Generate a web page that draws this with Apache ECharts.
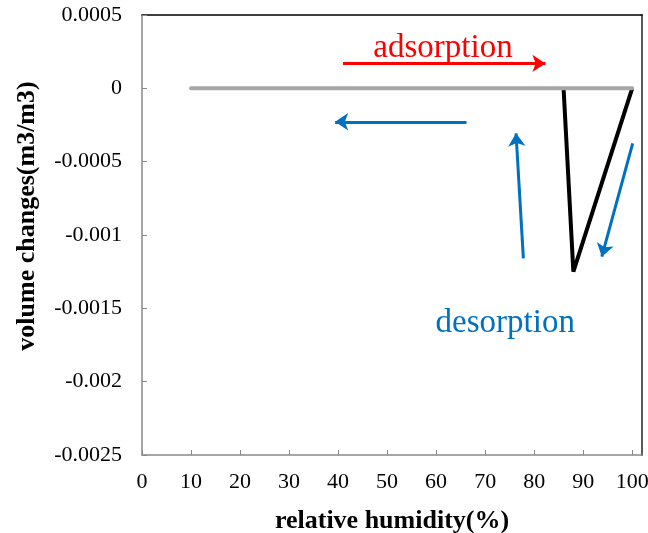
<!DOCTYPE html>
<html><head><meta charset="utf-8">
<script src="https://cdn.jsdelivr.net/npm/echarts@6/dist/echarts.min.js"></script>
<style>html,body{margin:0;padding:0;background:#fff}#c{width:648px;height:533px}</style>
</head><body><div id="c"></div>
<script>
const adsorptionRH = [10, 20, 30, 40, 50, 60, 70, 80, 90, 100];
const adsorptionVol = [0, 0, 0, 0, 0, 0, 0, 0, 0, 0];
const desorptionRH = [100, 88, 86];
const desorptionVol = [0, -0.00125, 0];
const yTicks = [0.0005, 0, -0.0005, -0.001, -0.0015, -0.002, -0.0025];
const xTicks = [0, 10, 20, 30, 40, 50, 60, 70, 80, 90, 100];
// annotation arrows in data units [x1, y1, x2, y2]
const redArrow = [41.0, 0.00017, 82.3, 0.00017];
const blueArrows = [
  [66.2, -0.000228, 39.4, -0.000228],
  [77.8, -0.001159, 76.3, -0.000307],
  [100.1, -0.000375, 93.8, -0.001148]
];
const labelAds = {text: 'adsorption', x: 61.4, y: 0.000275};
const labelDes = {text: 'desorption', x: 74.1, y: -0.001605};

const FONT = '"Liberation Serif","Times New Roman",serif';
const chart = echarts.init(document.getElementById('c'), null, {renderer: 'canvas'});
const arrowLines = [];
arrowLines.push([{coord: [redArrow[0], redArrow[1]], lineStyle: {color: '#FF0000', width: 3, type: 'solid'}}, {coord: [redArrow[2], redArrow[3]]}]);
blueArrows.forEach(a => arrowLines.push([{coord: [a[0], a[1]], lineStyle: {color: '#0070C0', width: 3, type: 'solid'}}, {coord: [a[2], a[3]]}]));

chart.setOption({
  animation: false,
  grid: {left: 142, right: 6, top: 15, bottom: 78, containLabel: false, outerBoundsMode: 'none'},
  xAxis: [{
    type: 'value', min: 0, max: 102, interval: 10,
    axisLine: {onZero: false, lineStyle: {color: '#898989', width: 1.5}},
    axisTick: {inside: true, length: 5, lineStyle: {color: '#898989'}},
    axisLabel: {showMaxLabel: false, margin: 16, color: '#000', fontFamily: FONT, fontSize: 22},
    splitLine: {show: false},
    name: 'relative humidity(%)', nameLocation: 'middle', nameGap: 53,
    nameTextStyle: {fontFamily: FONT, fontSize: 26, fontWeight: 'bold', color: '#000'}
  }, {
    type: 'value', position: 'top', min: 0, max: 102,
    axisLine: {show: true, onZero: false, lineStyle: {color: '#000', width: 1.5}},
    axisTick: {show: false}, axisLabel: {show: false}, splitLine: {show: false}
  }],
  yAxis: [{
    type: 'value', min: -0.0025, max: 0.0005, interval: 0.0005,
    axisLine: {show: true, onZero: false, lineStyle: {color: '#898989', width: 1.5}},
    axisTick: {show: true, inside: true, length: 5, lineStyle: {color: '#898989'}},
    axisLabel: {margin: 20, color: '#000', fontFamily: FONT, fontSize: 22,
      formatter: v => { const r = Math.round(v * 10000) / 10000; return String(r); }},
    splitLine: {show: false},
    name: 'volume changes(m3/m3)', nameLocation: 'middle', nameGap: 102,
    nameTextStyle: {fontFamily: FONT, fontSize: 26, fontWeight: 'bold', color: '#000', padding: [0, 0, 0, 38]}
  }, {
    type: 'value', position: 'right', min: -0.0025, max: 0.0005,
    axisLine: {show: true, onZero: false, lineStyle: {color: '#595959', width: 2}},
    axisTick: {show: false}, axisLabel: {show: false}, splitLine: {show: false}
  }],
  series: [{
    name: 'desorption', type: 'line', z: 2,
    data: desorptionRH.map((x, i) => [x, desorptionVol[i]]),
    showSymbol: false, symbol: 'none',
    lineStyle: {color: '#000', width: 4}
  }, {
    name: 'adsorption', type: 'line', z: 3,
    data: adsorptionRH.map((x, i) => [x, adsorptionVol[i]]),
    showSymbol: false, symbol: 'none',
    lineStyle: {color: '#A6A6A6', width: 4, cap: 'round'},
    markLine: {
      silent: true, symbol: ['none', 'arrow'], symbolSize: [13, 13],
      label: {show: false}, data: arrowLines
    }
  }]
});

function placeLabels() {
  const els = [labelAds, labelDes].map((l, i) => {
    const p = chart.convertToPixel({xAxisIndex: 0, yAxisIndex: 0}, [l.x, l.y]);
    return {type: 'text', x: p[0], y: p[1], z: 10,
      style: {text: l.text, fill: i === 0 ? '#FF0000' : '#0070C0', font: '33px ' + FONT,
        align: 'center', verticalAlign: 'middle'}};
  });
  chart.setOption({graphic: els});
}
placeLabels();
</script></body></html>
